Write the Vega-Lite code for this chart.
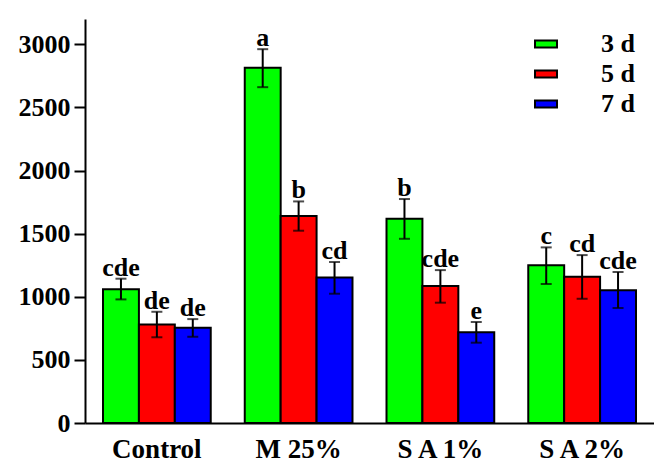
{
  "$schema": "https://vega.github.io/schema/vega-lite/v6.json",
  "width": 569,
  "height": 404,
  "autosize": "none",
  "padding": {"left": 85, "top": 19, "right": 0, "bottom": 43},
  "background": "white",
  "config": {
    "view": {"stroke": null},
    "font": "Liberation Serif",
    "axis": {"labelFont": "Liberation Serif", "labelFontWeight": "bold", "labelColor": "black", "domainColor": "black", "tickColor": "black", "grid": false, "title": null}
  },
  "data": {
    "values": [
      {"group": "Control", "day": "3 d", "value": 1060, "lo": 979, "hi": 1143, "label": "cde"},
      {"group": "Control", "day": "5 d", "value": 781, "lo": 679, "hi": 881, "label": "de"},
      {"group": "Control", "day": "7 d", "value": 755, "lo": 683, "hi": 823, "label": "de"},
      {"group": "M 25%", "day": "3 d", "value": 2813, "lo": 2660, "hi": 2961, "label": "a"},
      {"group": "M 25%", "day": "5 d", "value": 1639, "lo": 1523, "hi": 1755, "label": "b"},
      {"group": "M 25%", "day": "7 d", "value": 1153, "lo": 1024, "hi": 1275, "label": "cd"},
      {"group": "S A 1%", "day": "3 d", "value": 1618, "lo": 1459, "hi": 1774, "label": "b"},
      {"group": "S A 1%", "day": "5 d", "value": 1085, "lo": 953, "hi": 1211, "label": "cde"},
      {"group": "S A 1%", "day": "7 d", "value": 718, "lo": 636, "hi": 800, "label": "e"},
      {"group": "S A 2%", "day": "3 d", "value": 1249, "lo": 1101, "hi": 1391, "label": "c"},
      {"group": "S A 2%", "day": "5 d", "value": 1159, "lo": 984, "hi": 1330, "label": "cd"},
      {"group": "S A 2%", "day": "7 d", "value": 1051, "lo": 911, "hi": 1196, "label": "cde"}
    ]
  },
  "encoding": {
    "x": {
      "field": "group", "type": "nominal", "sort": null,
      "scale": {"paddingInner": 0.24, "paddingOuter": 0.127},
      "axis": {"labelAngle": 0, "ticks": false, "domainWidth": 2, "labelFontSize": 27, "labelPadding": 13}
    },
    "xOffset": {"field": "day", "type": "nominal", "sort": ["3 d", "5 d", "7 d"], "scale": {"paddingInner": 0, "paddingOuter": 0}}
  },
  "layer": [
    {
      "mark": {"type": "bar", "stroke": "black", "strokeWidth": 2},
      "encoding": {
        "y": {
          "field": "value", "type": "quantitative",
          "scale": {"domain": [0, 3200], "nice": false},
          "axis": {"values": [0, 500, 1000, 1500, 2000, 2500, 3000], "format": "d", "domainWidth": 2, "tickWidth": 2, "tickSize": 11, "labelFontSize": 26, "labelPadding": 4}
        },
        "color": {
          "field": "day", "type": "nominal",
          "scale": {"domain": ["3 d", "5 d", "7 d"], "range": ["#00ff00", "#ff0000", "#0000ff"]},
          "legend": {
            "title": null, "orient": "none", "legendX": 448, "legendY": 12,
            "symbolType": "M-1,-0.32H1V0.32H-1Z", "symbolSize": 484,
            "symbolStrokeColor": "black", "symbolStrokeWidth": 2, "symbolOpacity": 1,
            "labelFont": "Liberation Serif", "labelFontWeight": "bold", "labelFontSize": 26, "labelColor": "black",
            "labelOffset": 42, "rowPadding": 4
          }
        }
      }
    },
    {
      "mark": {"type": "rule", "color": "black", "strokeWidth": 2},
      "encoding": {"y": {"field": "lo", "type": "quantitative"}, "y2": {"field": "hi"}}
    },
    {
      "mark": {"type": "tick", "color": "black", "size": 11, "thickness": 2},
      "encoding": {"y": {"field": "lo", "type": "quantitative"}}
    },
    {
      "mark": {"type": "tick", "color": "black", "size": 11, "thickness": 2},
      "encoding": {"y": {"field": "hi", "type": "quantitative"}}
    },
    {
      "mark": {"type": "text", "baseline": "alphabetic", "dy": -3, "font": "Liberation Serif", "fontWeight": "bold", "fontSize": 26, "color": "black"},
      "encoding": {"y": {"field": "hi", "type": "quantitative"}, "text": {"field": "label"}}
    }
  ]
}
